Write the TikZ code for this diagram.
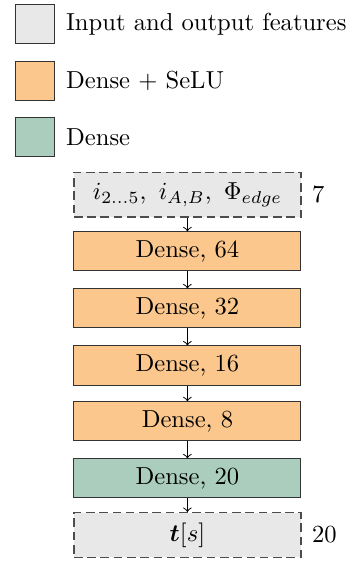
\documentclass[tikz,border=0pt]{standalone}
\usepackage{bm}
\usetikzlibrary{positioning}

\definecolor{featgray}{RGB}{232,232,232}
\definecolor{seluorange}{RGB}{251,199,140}
\definecolor{densegreen}{RGB}{170,205,190}

\tikzset{
  keybox/.style={draw=black!80, minimum width=15.9pt, minimum height=15.9pt,
    inner sep=0pt},
  layer/.style={draw=black!80, minimum width=92.3pt, minimum height=15.9pt,
    inner sep=0pt},
  feat/.style={layer, draw=black!70, line width=0.5pt, fill=featgray,
    dash pattern=on 3.5pt off 1.9pt, minimum height=18.2pt},
  selu/.style={layer, fill=seluorange},
  dense/.style={layer, fill=densegreen},
  size/.style={anchor=west, xshift=0.8pt}
}

\begin{document}
\begin{tikzpicture}

  \useasboundingbox (0pt,0pt) rectangle (144.7pt,-228.5pt);

  % legend
  \node[keybox, fill=featgray] (kfeat) at (14.4pt, -9.9pt) {};
  \node[keybox, fill=seluorange] (kselu) at (14.4pt,-32.9pt) {};
  \node[keybox, fill=densegreen] (kdense) at (14.4pt,-55.7pt) {};
  \node[size] (tfeat) at (kfeat.east) {Input and output features};
  \node[size] (tselu) at (kselu.east) {Dense + SeLU};
  \node[size] (tdense) at (kdense.east) {Dense};

  % network
  \node[feat] (in) at (76.2pt, -79.1pt)
    {$i_{2\ldots5}$,\enspace$i_{A,B}$,\enspace$\Phi_{edge}$};
  \node[selu] (d64) at (76.2pt,-102.2pt) {Dense, 64};
  \node[selu] (d32) at (76.2pt,-125.4pt) {Dense, 32};
  \node[selu] (d16) at (76.2pt,-148.6pt) {Dense, 16};
  \node[selu] (d8) at (76.2pt,-171.3pt) {Dense, 8};
  \node[dense] (d20) at (76.2pt,-194.5pt) {Dense, 20};
  \node[feat] (out) at (76.2pt,-217.5pt) {$\bm{t}[s]$};

  \node[size] (nin) at (in.east) {7};
  \node[size] (nout) at (out.east) {20};

  \draw[->] (in) -- (d64);
  \draw[->] (d64) -- (d32);
  \draw[->] (d32) -- (d16);
  \draw[->] (d16) -- (d8);
  \draw[->] (d8) -- (d20);
  \draw[->] (d20) -- (out);

\end{tikzpicture}
\end{document}
